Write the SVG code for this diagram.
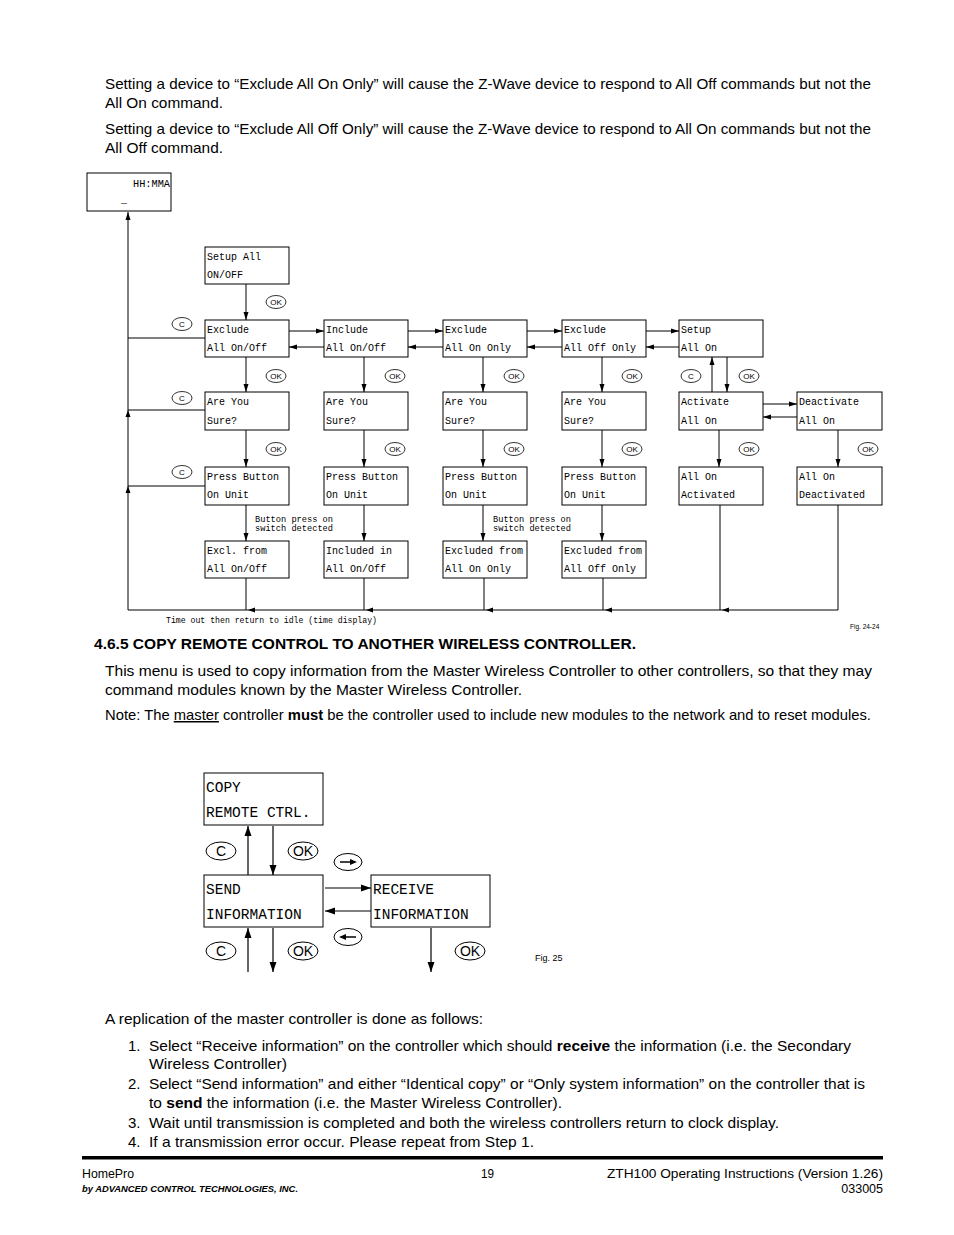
<svg xmlns="http://www.w3.org/2000/svg" width="954" height="1235" viewBox="0 0 954 1235">
<style>
.body{font-family:"Liberation Sans",Arial,sans-serif;font-size:15px;fill:#000}
.b{font-weight:bold}
.box{fill:#fff;stroke:#000;stroke-width:1}
.t{font-family:"Liberation Mono","DejaVu Sans Mono",monospace;font-size:10px;fill:#000}
.tl{font-family:"Liberation Mono","DejaVu Sans Mono",monospace;font-size:14.5px;fill:#000}
.sm{font-family:"Liberation Mono","DejaVu Sans Mono",monospace;font-size:8.6px;fill:#000}
.ln{stroke:#000;stroke-width:1;fill:none}
.lnA{stroke:#000;stroke-width:1;fill:none;marker-end:url(#ah)}
.lnB{stroke:#000;stroke-width:1.2;fill:none;marker-end:url(#ahB)}
.el{fill:#fff;stroke:#000;stroke-width:0.8}
.elt{font-family:"Liberation Sans",Arial,sans-serif;font-size:8px;fill:#000;text-anchor:middle}
.elB{fill:#fff;stroke:#000;stroke-width:1}
.eltB{font-family:"Liberation Sans",Arial,sans-serif;font-size:14px;fill:#000;text-anchor:middle}
.ft{font-family:"Liberation Sans",Arial,sans-serif;font-size:12.5px;fill:#000}
</style>
<defs>
<marker id="ah" viewBox="0 0 8 6" refX="8" refY="3" markerWidth="8" markerHeight="6" markerUnits="userSpaceOnUse" orient="auto"><path d="M0,0.5 L8,3 L0,5.5 Z" fill="#000"/></marker>
<marker id="ahB" viewBox="0 0 10 8" refX="10" refY="4" markerWidth="10" markerHeight="8" markerUnits="userSpaceOnUse" orient="auto"><path d="M0,0.5 L10,4 L0,7.5 Z" fill="#000"/></marker>
</defs>
<rect width="954" height="1235" fill="#fff"/>

<g id="intro-text">
<text class="body" x="105" y="89" textLength="766" lengthAdjust="spacingAndGlyphs">Setting a device to “Exclude All On Only”  will cause the Z-Wave device to respond to All Off commands but not the</text>
<text class="body" x="105" y="108" textLength="118" lengthAdjust="spacingAndGlyphs">All On command.</text>
<text class="body" x="105" y="134" textLength="766" lengthAdjust="spacingAndGlyphs">Setting a device to “Exclude All Off Only”  will cause the Z-Wave device to respond to All On commands but not the</text>
<text class="body" x="105" y="153" textLength="118" lengthAdjust="spacingAndGlyphs">All Off command.</text>
</g>

<g id="connectors-fig24">
<line class="ln" x1="128" y1="610" x2="838" y2="610"/>
<line class="lnA" x1="128" y1="610" x2="128" y2="212"/>
<line class="ln" x1="128" y1="338" x2="205" y2="338"/>
<line class="ln" x1="128" y1="410" x2="205" y2="410"/>
<line class="ln" x1="128" y1="486" x2="205" y2="486"/>
<path d="M128,410 L125.5,417 L130.5,417 Z" fill="#000"/>
<path d="M128,486 L125.5,493 L130.5,493 Z" fill="#000"/>
<line class="ln" x1="246" y1="578" x2="246" y2="610"/>
<line class="ln" x1="364" y1="578" x2="364" y2="610"/>
<line class="ln" x1="484" y1="578" x2="484" y2="610"/>
<line class="ln" x1="603" y1="578" x2="603" y2="610"/>
<line class="ln" x1="720" y1="505" x2="720" y2="610"/>
<line class="ln" x1="838" y1="505" x2="838" y2="610"/>
<path d="M248,610 L255,607.5 L255,612.5 Z" fill="#000"/>
<path d="M366,610 L373,607.5 L373,612.5 Z" fill="#000"/>
<path d="M486,610 L493,607.5 L493,612.5 Z" fill="#000"/>
<path d="M605,610 L612,607.5 L612,612.5 Z" fill="#000"/>
<path d="M722,610 L729,607.5 L729,612.5 Z" fill="#000"/>
<line class="lnA" x1="246" y1="284" x2="246" y2="320"/>
<line class="lnA" x1="289" y1="331" x2="324" y2="331"/>
<line class="lnA" x1="324" y1="347" x2="289" y2="347"/>
<line class="lnA" x1="408" y1="331" x2="443" y2="331"/>
<line class="lnA" x1="443" y1="347" x2="408" y2="347"/>
<line class="lnA" x1="527" y1="331" x2="562" y2="331"/>
<line class="lnA" x1="562" y1="347" x2="527" y2="347"/>
<line class="lnA" x1="646" y1="331" x2="679" y2="331"/>
<line class="lnA" x1="679" y1="347" x2="646" y2="347"/>
<line class="lnA" x1="246" y1="357" x2="246" y2="392"/>
<line class="lnA" x1="364" y1="357" x2="364" y2="392"/>
<line class="lnA" x1="483" y1="357" x2="483" y2="392"/>
<line class="lnA" x1="602" y1="357" x2="602" y2="392"/>
<line class="lnA" x1="727" y1="357" x2="727" y2="392"/>
<line class="lnA" x1="712" y1="392" x2="712" y2="357"/>
<line class="lnA" x1="763" y1="404" x2="797" y2="404"/>
<line class="lnA" x1="797" y1="417" x2="763" y2="417"/>
<line class="lnA" x1="246" y1="430" x2="246" y2="467"/>
<line class="lnA" x1="364" y1="430" x2="364" y2="467"/>
<line class="lnA" x1="483" y1="430" x2="483" y2="467"/>
<line class="lnA" x1="602" y1="430" x2="602" y2="467"/>
<line class="lnA" x1="719" y1="430" x2="719" y2="467"/>
<line class="lnA" x1="838" y1="430" x2="838" y2="467"/>
<line class="lnA" x1="246" y1="505" x2="246" y2="541"/>
<line class="lnA" x1="364" y1="505" x2="364" y2="541"/>
<line class="lnA" x1="483" y1="505" x2="483" y2="541"/>
<line class="lnA" x1="602" y1="505" x2="602" y2="541"/>
</g>

<g id="idle">
<rect class="box" x="87" y="173" width="84" height="38"/>
<text class="t" x="133" y="187" textLength="37" lengthAdjust="spacingAndGlyphs">HH:MMA</text>
<text class="t" x="121" y="203">_</text>
</g>
<g id="setup-all"><rect class="box" x="205" y="247" width="84" height="37"/><text class="t" x="207" y="260">Setup All</text><text class="t" x="207" y="278">ON/OFF</text></g>

<g id="excl-onoff"><rect class="box" x="205" y="320" width="84" height="37"/><text class="t" x="207" y="333">Exclude</text><text class="t" x="207" y="351">All On/Off</text></g>
<g id="incl-onoff"><rect class="box" x="324" y="320" width="84" height="37"/><text class="t" x="326" y="333">Include</text><text class="t" x="326" y="351">All On/Off</text></g>
<g id="excl-ononly"><rect class="box" x="443" y="320" width="84" height="37"/><text class="t" x="445" y="333">Exclude</text><text class="t" x="445" y="351">All On Only</text></g>
<g id="excl-offonly"><rect class="box" x="562" y="320" width="84" height="37"/><text class="t" x="564" y="333">Exclude</text><text class="t" x="564" y="351">All Off Only</text></g>
<g id="setup-allon"><rect class="box" x="679" y="320" width="84" height="37"/><text class="t" x="681" y="333">Setup</text><text class="t" x="681" y="351">All On</text></g>

<g id="sure1"><rect class="box" x="205" y="392" width="84" height="38"/><text class="t" x="207" y="405">Are You</text><text class="t" x="207" y="424">Sure?</text></g>
<g id="sure2"><rect class="box" x="324" y="392" width="84" height="38"/><text class="t" x="326" y="405">Are You</text><text class="t" x="326" y="424">Sure?</text></g>
<g id="sure3"><rect class="box" x="443" y="392" width="84" height="38"/><text class="t" x="445" y="405">Are You</text><text class="t" x="445" y="424">Sure?</text></g>
<g id="sure4"><rect class="box" x="562" y="392" width="84" height="38"/><text class="t" x="564" y="405">Are You</text><text class="t" x="564" y="424">Sure?</text></g>
<g id="activate"><rect class="box" x="679" y="392" width="84" height="38"/><text class="t" x="681" y="405">Activate</text><text class="t" x="681" y="424">All On</text></g>
<g id="deactivate"><rect class="box" x="797" y="392" width="85" height="38"/><text class="t" x="799" y="405">Deactivate</text><text class="t" x="799" y="424">All On</text></g>

<g id="press1"><rect class="box" x="205" y="467" width="84" height="38"/><text class="t" x="207" y="480">Press Button</text><text class="t" x="207" y="498">On Unit</text></g>
<g id="press2"><rect class="box" x="324" y="467" width="84" height="38"/><text class="t" x="326" y="480">Press Button</text><text class="t" x="326" y="498">On Unit</text></g>
<g id="press3"><rect class="box" x="443" y="467" width="84" height="38"/><text class="t" x="445" y="480">Press Button</text><text class="t" x="445" y="498">On Unit</text></g>
<g id="press4"><rect class="box" x="562" y="467" width="84" height="38"/><text class="t" x="564" y="480">Press Button</text><text class="t" x="564" y="498">On Unit</text></g>
<g id="activated"><rect class="box" x="679" y="467" width="84" height="38"/><text class="t" x="681" y="480">All On</text><text class="t" x="681" y="498">Activated</text></g>
<g id="deactivated"><rect class="box" x="797" y="467" width="85" height="38"/><text class="t" x="799" y="480">All On</text><text class="t" x="799" y="498">Deactivated</text></g>

<g id="res1"><rect class="box" x="205" y="541" width="84" height="37"/><text class="t" x="207" y="554">Excl. from</text><text class="t" x="207" y="572">All On/Off</text></g>
<g id="res2"><rect class="box" x="324" y="541" width="84" height="37"/><text class="t" x="326" y="554">Included in</text><text class="t" x="326" y="572">All On/Off</text></g>
<g id="res3"><rect class="box" x="443" y="541" width="84" height="37"/><text class="t" x="445" y="554">Excluded from</text><text class="t" x="445" y="572">All On Only</text></g>
<g id="res4"><rect class="box" x="562" y="541" width="84" height="37"/><text class="t" x="564" y="554">Excluded from</text><text class="t" x="564" y="572">All Off Only</text></g>

<g id="key-labels-fig24">
<g><ellipse class="el" cx="276" cy="302" rx="10" ry="6.5"/><text class="elt" x="276" y="305">OK</text></g>
<g><ellipse class="el" cx="182" cy="324" rx="10" ry="6.5"/><text class="elt" x="182" y="327">C</text></g>
<g><ellipse class="el" cx="182" cy="398" rx="10" ry="6.5"/><text class="elt" x="182" y="401">C</text></g>
<g><ellipse class="el" cx="182" cy="472" rx="10" ry="6.5"/><text class="elt" x="182" y="475">C</text></g>
<g><ellipse class="el" cx="276" cy="376" rx="10" ry="6.5"/><text class="elt" x="276" y="379">OK</text></g>
<g><ellipse class="el" cx="395" cy="376" rx="10" ry="6.5"/><text class="elt" x="395" y="379">OK</text></g>
<g><ellipse class="el" cx="514" cy="376" rx="10" ry="6.5"/><text class="elt" x="514" y="379">OK</text></g>
<g><ellipse class="el" cx="632" cy="376" rx="10" ry="6.5"/><text class="elt" x="632" y="379">OK</text></g>
<g><ellipse class="el" cx="691" cy="376" rx="10" ry="6.5"/><text class="elt" x="691" y="379">C</text></g>
<g><ellipse class="el" cx="749" cy="376" rx="10" ry="6.5"/><text class="elt" x="749" y="379">OK</text></g>
<g><ellipse class="el" cx="276" cy="449" rx="10" ry="6.5"/><text class="elt" x="276" y="452">OK</text></g>
<g><ellipse class="el" cx="395" cy="449" rx="10" ry="6.5"/><text class="elt" x="395" y="452">OK</text></g>
<g><ellipse class="el" cx="514" cy="449" rx="10" ry="6.5"/><text class="elt" x="514" y="452">OK</text></g>
<g><ellipse class="el" cx="632" cy="449" rx="10" ry="6.5"/><text class="elt" x="632" y="452">OK</text></g>
<g><ellipse class="el" cx="749" cy="449" rx="10" ry="6.5"/><text class="elt" x="749" y="452">OK</text></g>
<g><ellipse class="el" cx="868" cy="449" rx="10" ry="6.5"/><text class="elt" x="868" y="452">OK</text></g>
</g>

<g id="notes-fig24">
<text class="sm" x="255" y="522" textLength="78" lengthAdjust="spacingAndGlyphs">Button press on</text>
<text class="sm" x="255" y="531" textLength="78" lengthAdjust="spacingAndGlyphs">switch detected</text>
<text class="sm" x="493" y="522" textLength="78" lengthAdjust="spacingAndGlyphs">Button press on</text>
<text class="sm" x="493" y="531" textLength="78" lengthAdjust="spacingAndGlyphs">switch detected</text>
<text class="sm" x="166" y="623" textLength="211" lengthAdjust="spacingAndGlyphs">Time out then return to idle (time display)</text>
<text font-family="Liberation Sans, Arial, sans-serif" font-size="6.5" x="850" y="629">Fig. 24-24</text>
</g>

<g id="section-text">
<text class="body b" x="94" y="649" textLength="542" lengthAdjust="spacingAndGlyphs">4.6.5 COPY REMOTE CONTROL TO ANOTHER WIRELESS CONTROLLER.</text>
<text class="body" x="105" y="676" textLength="767" lengthAdjust="spacingAndGlyphs">This menu is used to copy information from the Master Wireless Controller to other controllers, so that they may</text>
<text class="body" x="105" y="695" textLength="417" lengthAdjust="spacingAndGlyphs">command modules known by the Master Wireless Controller.</text>
<text class="body" x="105" y="720" textLength="766" lengthAdjust="spacingAndGlyphs">Note: The <tspan text-decoration="underline">master</tspan> controller <tspan class="b">must</tspan> be the controller used to include new modules to the network and to reset modules.</text>
</g>

<g id="connectors-fig25">
<line class="lnB" x1="248" y1="875" x2="248" y2="826"/>
<line class="lnB" x1="273" y1="826" x2="273" y2="875"/>
<line class="lnB" x1="325" y1="888" x2="371" y2="888"/>
<line class="lnB" x1="371" y1="911" x2="325" y2="911"/>
<line class="lnB" x1="248" y1="972" x2="248" y2="928"/>
<line class="lnB" x1="273" y1="928" x2="273" y2="972"/>
<line class="lnB" x1="431" y1="928" x2="431" y2="972"/>
</g>
<g id="copy"><rect class="box" x="204" y="773" width="119" height="52"/><text class="tl" x="206" y="792">COPY</text><text class="tl" x="206" y="817">REMOTE CTRL.</text></g>
<g id="send"><rect class="box" x="204" y="875" width="119" height="52"/><text class="tl" x="206" y="894">SEND</text><text class="tl" x="206" y="919">INFORMATION</text></g>
<g id="receive"><rect class="box" x="371" y="875" width="119" height="52"/><text class="tl" x="373" y="894">RECEIVE</text><text class="tl" x="373" y="919">INFORMATION</text></g>
<g id="key-labels-fig25">
<g><ellipse class="elB" cx="221" cy="851" rx="15" ry="9"/><text class="eltB" x="221" y="856">C</text></g>
<g><ellipse class="elB" cx="303" cy="851" rx="15" ry="9"/><text class="eltB" x="303" y="856">OK</text></g>
<g><ellipse class="elB" cx="348" cy="862" rx="14" ry="8.5"/><line x1="340" y1="862" x2="352" y2="862" stroke="#000" stroke-width="1.5"/><path d="M357,862 L350,859 L350,865 Z" fill="#000"/></g>
<g><ellipse class="elB" cx="348" cy="937" rx="14" ry="8.5"/><line x1="344" y1="937" x2="356" y2="937" stroke="#000" stroke-width="1.5"/><path d="M339,937 L346,934 L346,940 Z" fill="#000"/></g>
<g><ellipse class="elB" cx="221" cy="951" rx="15" ry="9"/><text class="eltB" x="221" y="956">C</text></g>
<g><ellipse class="elB" cx="303" cy="951" rx="15" ry="9"/><text class="eltB" x="303" y="956">OK</text></g>
<g><ellipse class="elB" cx="470" cy="951" rx="15" ry="9"/><text class="eltB" x="470" y="956">OK</text></g>
<text font-family="Liberation Sans, Arial, sans-serif" font-size="9" x="535" y="961">Fig. 25</text>
</g>

<g id="list-text">
<text class="body" x="105" y="1024" textLength="378" lengthAdjust="spacingAndGlyphs">A replication of the master controller is done as follows:</text>
<text class="body" x="128" y="1051">1.</text>
<text class="body" x="149" y="1051" textLength="702" lengthAdjust="spacingAndGlyphs">Select “Receive information” on the controller which should <tspan class="b">receive</tspan> the information (i.e. the Secondary</text>
<text class="body" x="149" y="1069" textLength="138" lengthAdjust="spacingAndGlyphs">Wireless Controller)</text>
<text class="body" x="128" y="1089">2.</text>
<text class="body" x="149" y="1089" textLength="716" lengthAdjust="spacingAndGlyphs">Select “Send information” and either “Identical copy” or “Only system information” on the controller that is</text>
<text class="body" x="149" y="1108" textLength="413" lengthAdjust="spacingAndGlyphs">to <tspan class="b">send</tspan> the information (i.e. the Master Wireless Controller).</text>
<text class="body" x="128" y="1128">3.</text>
<text class="body" x="149" y="1128" textLength="630" lengthAdjust="spacingAndGlyphs">Wait until transmission is completed and both the wireless controllers return to clock display.</text>
<text class="body" x="128" y="1147">4.</text>
<text class="body" x="149" y="1147" textLength="385" lengthAdjust="spacingAndGlyphs">If a transmission error occur. Please repeat from Step 1.</text>
</g>

<g id="footer">
<rect x="82" y="1156" width="801" height="3.5" fill="#000"/>
<text class="ft" x="82" y="1178" textLength="52" lengthAdjust="spacingAndGlyphs">HomePro</text>
<text class="ft" x="481" y="1178" textLength="13" lengthAdjust="spacingAndGlyphs">19</text>
<text class="ft" x="607" y="1178" textLength="276" lengthAdjust="spacingAndGlyphs">ZTH100 Operating Instructions (Version 1.26)</text>
<text font-family="Liberation Sans, Arial, sans-serif" font-size="8.5" font-weight="bold" font-style="italic" x="82" y="1192" textLength="216" lengthAdjust="spacingAndGlyphs">by ADVANCED CONTROL TECHNOLOGIES, INC.</text>
<text class="ft" x="883" y="1193" text-anchor="end">033005</text>
</g>
</svg>
